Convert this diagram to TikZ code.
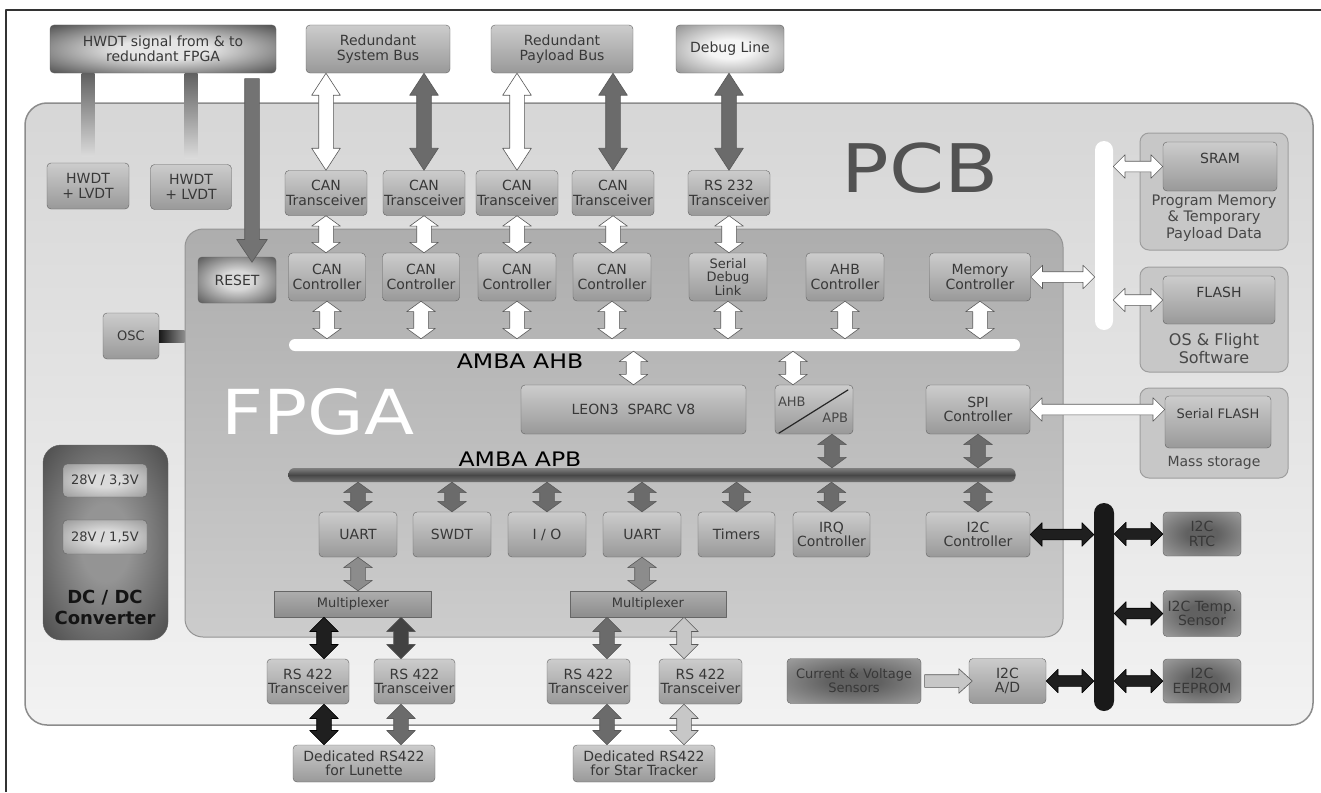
\documentclass[tikz,border=0pt]{standalone}
\usepackage{fontspec}
\setmainfont{DejaVu Sans}
\newfontfamily\geo[FakeStretch=1.18]{DejaVu Sans}
\usetikzlibrary{calc,shapes.arrows}
\newcommand\fsz[2]{\fontsize{#1}{#2}\selectfont}
\colorlet{glowin}{white}\colorlet{glowout}{black}
\pgfdeclareradialshading[glowin,glowout]{glow}{\pgfpoint{0bp}{0bp}}{color(0bp)=(glowin); color(10bp)=(glowin); color(44bp)=(glowout); color(72bp)=(glowout)}
% fat block arrow from #2 to #3
\newcommand\fat[3][]{\path let \p1=#2, \p2=#3, \n1={veclen(\x2-\x1,\y2-\y1)}, \n2={atan2(\y2-\y1,\x2-\x1)} in ($(\p1)!0.5!(\p2)$) node[fat,#1,minimum height=\n1,rotate=\n2] {}}
\begin{document}
\begin{tikzpicture}[x=1pt, y=-1pt, line join=round,
  box/.style={draw=black!62, rounded corners=4pt, top color=black!20, bottom color=black!40, text=black!78, align=center, font=\fsz{14}{14.5}, inner sep=0pt},
  sz/.style 2 args={minimum width=#1, minimum height=#2},
  rad/.style 2 args={/utils/exec={\colorlet{glowin}{#1}\colorlet{glowout}{#2}}, shading=glow},
  grp/.style={draw=black!38, fill=black!22, rounded corners=9pt, line width=1pt},
  bus/.style={rounded corners=6pt, inner sep=0pt},
  txt/.style={align=center, text=black!72, inner sep=0pt},
  lab/.style={anchor=north, yshift=-9pt, font=\fsz{14}{16}, text=black!78, inner sep=2pt},
  muxbox/.style={draw=black!60, top color=black!32, bottom color=black!45, text=black!78, font=\fsz{13}{14}, inner sep=0pt},
  fat/.style={double arrow, draw=black!65, line width=0.6pt, inner xsep=0pt, inner ysep=7pt, minimum width=0pt, double arrow head extend=7pt, double arrow head indent=0pt, double arrow tip angle=66},
  shorthead/.style={double arrow tip angle=108},
  midhead/.style={double arrow tip angle=90},
  slim/.style={inner ysep=5pt, double arrow head extend=6.5pt, double arrow tip angle=90},
  onehead/.style={single arrow, single arrow head indent=0pt, single arrow head extend=8pt, single arrow tip angle=68},
  wa/.style={fill=white}, da/.style={fill=black!58}, ka/.style={fill=black!74},
  ba/.style={fill=black!88, draw=black}, ga/.style={fill=black!45}, la/.style={fill=black!22}]
\useasboundingbox (0,0) rectangle (1321,792);
\draw[black!80, line width=1.2pt] (6,792) -- (6,10) -- (1321,10);

% boards
\node[draw=black!45, line width=1.5pt, rounded corners=22pt, top color=black!16, bottom color=black!5, sz={1288}{622}] (pcb) at (669,414) {};
\node[font=\geo\fsz{67}{70}, text=black!68] at (920,168) {PCB};
\node[draw=black!42, line width=1pt, rounded corners=18pt, top color=black!32, bottom color=black!20, sz={878}{408}] (fpga) at (624,433) {};
\node[font=\geo\fsz{62}{64}, text=white] at (318,412) {FPGA};

% buses
\node[bus, fill=white, sz={731}{12}] (ahb) at (654.5,345) {};
\node[bus, top color=black!50, bottom color=black!55, middle color=black!72, sz={727}{14}] (apb) at (652,475) {};
\node[font=\geo\fsz{20}{22}] at (520,361) {AMBA AHB};
\node[font=\geo\fsz{20}{22}] at (520,459) {AMBA APB};
\node[bus, fill=white, rounded corners=9pt, sz={18}{189}] (mbus) at (1104,235.5) {};
\node[bus, fill=black!90, rounded corners=10pt, sz={20}{208}] (ibus) at (1104,607) {};

% outside lines
\node[box, rad={black!10}{black!88}, sz={226}{48}] (hwdt) at (163,49) {HWDT signal from \& to\\redundant FPGA};
\node[box, sz={144}{48}] (sysbus) at (378,49) {Redundant\\System Bus};
\node[box, sz={142}{48}] (plbus) at (562,49) {Redundant\\Payload Bus};
\node[box, rad={black!4}{black!55}, sz={108}{48}] (dbg) at (730,49) {Debug Line};

\node[box, sz={82}{46}] (lv1) at (88,186) {HWDT\\+ LVDT};
\node[box, sz={81}{45}] (lv2) at (191,187) {HWDT\\+ LVDT};
\node[box, sz={56}{46}, font=\fsz{13}{14}] (osc) at (131,336) {OSC};

% transceivers
\node[box, sz={82}{45}] (ct1) at (326,193) {CAN\\Transceiver};
\node[box, sz={82}{45}] (ct2) at (424,193) {CAN\\Transceiver};
\node[box, sz={82}{45}] (ct3) at (517,193) {CAN\\Transceiver};
\node[box, sz={82}{45}] (ct4) at (613,193) {CAN\\Transceiver};
\node[box, sz={82}{45}] (rs) at (729,193) {RS 232\\Transceiver};

% AHB masters and slaves
\node[box, rad={black!15}{black!82}, sz={78}{46}] (reset) at (237,280) {RESET};
\node[box, sz={77}{48}] (cc1) at (327,277) {CAN\\Controller};
\node[box, sz={77}{48}] (cc2) at (421,277) {CAN\\Controller};
\node[box, sz={78}{48}] (cc3) at (517,277) {CAN\\Controller};
\node[box, sz={78}{48}] (cc4) at (612,277) {CAN\\Controller};
\node[box, sz={78}{48}, font=\fsz{13}{13.5}] (sdl) at (728,277) {Serial\\Debug\\Link};
\node[box, sz={78}{48}] (ahbc) at (845,277) {AHB\\Controller};
\node[box, sz={101}{48}] (memc) at (980,277) {Memory\\Controller};

\node[box, sz={225}{49}] (leon) at (633.5,409.5) {LEON3\ \ SPARC V8};
\node[box, sz={78}{49}] (bridge) at (814,409.5) {};
\draw[black!85, line width=1.2pt] ($(bridge.south west)+(4,-1)$) -- ($(bridge.north east)+(-5,5)$);
\node[txt, anchor=west, font=\fsz{13}{14}] at ($(bridge.west)+(3,-8)$) {AHB};
\node[txt, anchor=east, font=\fsz{13}{14}] at ($(bridge.east)+(-5,8)$) {APB};
\node[box, sz={104}{49}] (spi) at (978,409.5) {SPI\\Controller};

% APB peripherals
\node[box, sz={78}{45}] (u1) at (358,534.5) {UART};
\node[box, sz={78}{45}] (swdt) at (452,534.5) {SWDT};
\node[box, sz={78}{45}] (io) at (547,534.5) {I / O};
\node[box, sz={78}{45}] (u2) at (642,534.5) {UART};
\node[box, sz={77}{45}] (tim) at (736.5,534.5) {Timers};
\node[box, sz={77}{45}] (irq) at (831.5,534.5) {IRQ\\Controller};
\node[box, sz={104}{45}] (i2cc) at (978,534.5) {I2C\\Controller};

\node[muxbox, sz={157}{26}] (mux1) at (353,604) {Multiplexer};
\node[muxbox, sz={156}{26}] (mux2) at (648,604) {Multiplexer};

\node[box, sz={82}{45}] (t1) at (308,681.5) {RS 422\\Transceiver};
\node[box, sz={81}{45}] (t2) at (414.5,681.5) {RS 422\\Transceiver};
\node[box, sz={83}{45}] (t3) at (588.5,681.5) {RS 422\\Transceiver};
\node[box, sz={83}{45}] (t4) at (700.5,681.5) {RS 422\\Transceiver};
\node[box, sz={142}{37}] (lun) at (364,763.5) {Dedicated RS422\\for Lunette};
\node[box, sz={142}{37}] (star) at (644,763.5) {Dedicated RS422\\for Star Tracker};

% I2C side
\node[box, rad={black!62}{black!30}, sz={134}{45}, font=\fsz{13}{14}] (sens) at (854,681) {Current \& Voltage\\Sensors};
\node[box, sz={77}{45}] (ad) at (1007.5,681) {I2C\\A/D};
\node[box, rad={black!62}{black!30}, sz={78}{44}] (rtc) at (1202,534) {I2C\\RTC};
\node[box, rad={black!62}{black!30}, sz={78}{46}] (temp) at (1202,613.5) {I2C Temp.\\Sensor};
\node[box, rad={black!62}{black!30}, sz={78}{44}] (eep) at (1202,681) {I2C\\EEPROM};

% memories
\node[grp, sz={148}{117}] (memg) at (1214,191.5) {};
\node[box, sz={114}{49}, label={[lab]north:SRAM}] (sram) at (1220,166.5) {};
\node[txt, font=\fsz{14.5}{16.5}] at (1214,218) {Program Memory\\\& Temporary\\Payload Data};
\node[grp, sz={148}{105}] (flashg) at (1214,319.5) {};
\node[box, sz={112}{48}, label={[lab]north:FLASH}] (flash) at (1219,300) {};
\node[txt, font=\fsz{16}{18}] at (1214,349) {OS \& Flight\\Software};
\node[grp, sz={148}{90}] (massg) at (1214,433) {};
\node[box, sz={106}{52}, label={[lab, yshift=-2pt, font=\fsz{13}{15}]north:Serial FLASH}] (sflash) at (1218,422) {};
\node[txt, font=\fsz{14}{16}] at (1214,463) {Mass storage};

% power
\node[box, rad={black!42}{black!80}, rounded corners=18pt, sz={125}{195}] (dcdc) at (105.5,542.5) {};
\node[box, rad={black!14}{black!48}, sz={84}{33}, font=\fsz{13}{14}] (v1) at (105,480.5) {28V / 3,3V};
\node[box, rad={black!14}{black!48}, sz={84}{34}, font=\fsz{13}{14}] (v2) at (105,537) {28V / 1,5V};
\node[txt, font=\bfseries\fsz{18}{21}, text=black!92] at (105,607) {DC / DC\\Converter};

% links
\foreach \a in {lv1,lv2} {\shade[top color=black!62, middle color=black!52, bottom color=black!14] ($(hwdt.south -| \a)+(-6.5,0)$) rectangle ($(\a.north)+(6.5,-6)$);}
\shade[left color=black!90, right color=black!45] ($(osc.east)+(0,-6)$) rectangle ($(osc.east -| fpga.west)+(0,6)$);
\coordinate (rin) at ($(reset.north)+(15,0)$);
\fat[onehead, fill=black!55]{(hwdt.south -| rin)}{(rin)};

\fat[wa]{(sysbus.south -| ct1)}{(ct1.north)};
\fat[da]{(sysbus.south -| ct2)}{(ct2.north)};
\fat[wa]{(plbus.south -| ct3)}{(ct3.north)};
\fat[da]{(plbus.south -| ct4)}{(ct4.north)};
\fat[da]{(dbg.south -| rs)}{(rs.north)};
\foreach \a/\b in {ct1/cc1, ct2/cc2, ct3/cc3, ct4/cc4, rs/sdl} {\fat[wa,shorthead]{(\a.south)}{(\a.south |- \b.north)};}
\foreach \a in {cc1,cc2,cc3,cc4,sdl,ahbc,memc} {\fat[wa,shorthead]{(\a.south)}{(\a.south |- ahb.north)};}
\fat[wa,shorthead]{(ahb.south -| leon)}{(leon.north)};
\coordinate (brin) at ($(bridge.north)+(-21,0)$);
\fat[wa,shorthead]{(ahb.south -| brin)}{(brin)};
\coordinate (brout) at ($(bridge.south)+(18,0)$);
\fat[da,shorthead]{(brout)}{(brout |- apb.north)};
\fat[da,shorthead]{(spi.south)}{(spi.south |- apb.north)};
\foreach \a in {u1,swdt,io,u2,tim,irq,i2cc} {\fat[da,shorthead]{(apb.south -| \a)}{(\a.north)};}
\fat[ga,shorthead]{(u1.south)}{(u1.south |- mux1.north)};
\fat[ga,shorthead]{(u2.south)}{(u2.south |- mux2.north)};

\coordinate (l1) at ($(lun.north)+(-40,0)$);
\coordinate (l2) at ($(lun.north)+(37,0)$);
\coordinate (s1) at ($(star.north)+(-37,0)$);
\coordinate (s2) at ($(star.north)+(40,0)$);
\fat[ba,midhead]{(mux1.south -| l1)}{(t1.north -| l1)};
\fat[ba,midhead]{(t1.south -| l1)}{(l1)};
\fat[ka,midhead]{(mux1.south -| l2)}{(t2.north -| l2)};
\fat[da,midhead]{(t2.south -| l2)}{(l2)};
\fat[da,midhead]{(mux2.south -| s1)}{(t3.north -| s1)};
\fat[da,midhead]{(t3.south -| s1)}{(s1)};
\fat[la,midhead]{(mux2.south -| s2)}{(t4.north -| s2)};
\fat[la,midhead]{(t4.south -| s2)}{(s2)};

\fat[wa,slim]{(memc.east)}{(memc.east -| mbus.west)};
\fat[wa,slim]{(sram.west -| mbus.east)}{(sram.west)};
\fat[wa,slim]{(flash.west -| mbus.east)}{(flash.west)};
\fat[wa,slim]{(spi.east)}{(spi.east -| sflash.west)};

\fat[ba,slim]{(i2cc.east)}{(i2cc.east -| ibus.west)};
\fat[ba,slim]{(rtc.west -| ibus.east)}{(rtc.west)};
\fat[ba,slim]{(temp.west -| ibus.east)}{(temp.west)};
\fat[ba,slim]{(eep.west -| ibus.east)}{(eep.west)};
\fat[ba,slim]{(ad.east)}{(ad.east -| ibus.west)};
\fat[onehead, la, inner ysep=6pt, single arrow head extend=6pt, single arrow tip angle=85]{(sens.east)}{(ad.west)};
\end{tikzpicture}
\end{document}
